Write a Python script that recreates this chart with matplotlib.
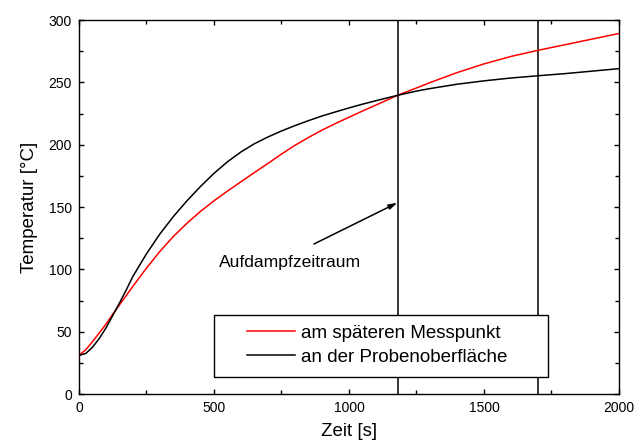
import matplotlib
matplotlib.use("Agg")
import matplotlib.pyplot as plt
from matplotlib.patches import Rectangle
from matplotlib.ticker import MultipleLocator

plt.rcParams["font.family"] = ["Liberation Sans", "DejaVu Sans"]

# Messzeitpunkte [s]
zeit = [0, 25, 50, 75, 100, 125, 150, 175, 200, 250, 300, 350, 400, 450,
        500, 550, 600, 650, 700, 750, 800, 850, 900, 950, 1000, 1050, 1100,
        1184, 1250, 1300, 1400, 1500, 1600, 1700, 1800, 1900, 2000]

# Temperatur am späteren Messpunkt [°C]
temp_messpunkt = [31, 35.5, 42, 49, 56, 64, 71.5, 79, 86.5, 101, 114.5,
                  126.5, 137, 146.5, 155, 162.8, 170.3, 177.7, 185, 192.5,
                  199.5, 205.8, 211.7, 217, 222, 227, 231.8, 240, 245.5,
                  249.8, 257.8, 264.8, 270.8, 275.7, 280.2, 284.7, 289.2]

# Temperatur an der Probenoberfläche [°C]
temp_oberflaeche = [31, 32.5, 37.5, 44.5, 53, 63, 73, 83.5, 94.5, 112.5,
                    128.5, 142.5, 155, 166.5, 177, 186.3, 194.2, 200.8,
                    206.2, 211, 215.3, 219.3, 223, 226.3, 229.5, 232.5,
                    235.3, 239.8, 243, 245, 248.5, 251.2, 253.5, 255.3, 257,
                    259, 261]

# Beginn und Ende des Aufdampfzeitraums [s]
aufdampf_grenzen = [1183, 1700]

fig = plt.figure(figsize=(6.35, 4.48), dpi=100)
ax = fig.add_axes([0.1244, 0.1205, 0.8504, 0.8348])

ax.plot(zeit, temp_messpunkt, color="#ff0000", lw=1.1,
        label="am späteren Messpunkt", zorder=3)
ax.plot(zeit, temp_oberflaeche, color="black", lw=1.1,
        label="an der Probenoberfläche", zorder=3)

for x in aufdampf_grenzen:
    ax.axvline(x, color="black", lw=1.1, zorder=2)

ax.annotate("", xy=(1179, 153.4), xytext=(870, 120.3),
            arrowprops=dict(arrowstyle="-|>,head_length=0.5,head_width=0.15",
                            color="black", lw=1.1, shrinkA=0, shrinkB=0))
ax.text(520, 105.5, "Aufdampfzeitraum", fontsize=12.6, va="center",
        ha="left")

# Legendenrahmen überdeckt die senkrechten Linien
ax.add_patch(Rectangle((0.2506, 0.0463), 0.6174, 0.1658,
                       transform=ax.transAxes, facecolor="white",
                       edgecolor="black", lw=1.0, zorder=4))
leg = ax.legend(loc="center left", bbox_to_anchor=(0.3106, 0.1305),
                frameon=False, fontsize=13.5, handlelength=2.6,
                handletextpad=0.3, labelspacing=0.38, borderpad=0,
                borderaxespad=0)
leg.set_zorder(5)

ax.set_xlim(0, 2000)
ax.set_ylim(0, 300)
ax.xaxis.set_major_locator(MultipleLocator(500))
ax.xaxis.set_minor_locator(MultipleLocator(250))
ax.yaxis.set_major_locator(MultipleLocator(50))
ax.yaxis.set_minor_locator(MultipleLocator(25))
ax.tick_params(which="both", direction="in", top=True, right=True,
               labelsize=10, width=1.0)
ax.tick_params(which="major", length=3.5, pad=5)
ax.tick_params(which="minor", length=3.0)
for s in ax.spines.values():
    s.set_linewidth(1.0)

ax.set_xlabel("Zeit [s]", fontsize=13.5, labelpad=6)
ax.set_ylabel("Temperatur [°C]", fontsize=13.5, labelpad=8)

fig.savefig("out.png", dpi=100)
